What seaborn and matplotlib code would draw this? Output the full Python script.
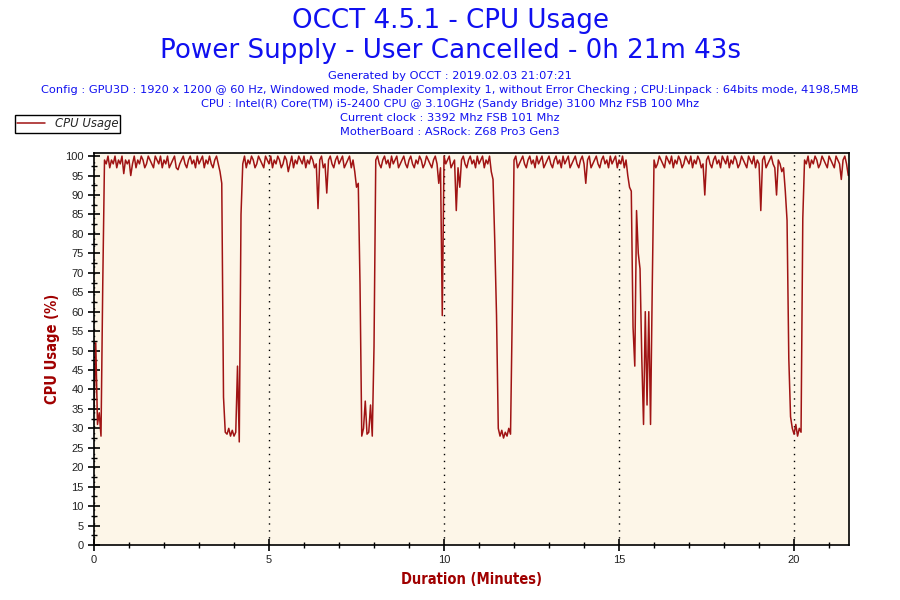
import numpy as np
import pandas as pd
import matplotlib
matplotlib.use('Agg')
import matplotlib.pyplot as plt
from matplotlib.ticker import MultipleLocator
import seaborn as sns

# --- data: CPU usage (%), one sample every 3 seconds ---
sample_seconds = 3
cpu_usage = [
    # minute 0
    35, 52, 31, 34, 28, 67, 99, 98, 100, 97, 99, 98, 100, 97, 99, 98, 100, 95.5, 99, 98,
    # minute 1
    99, 95, 98, 100, 97, 99, 98, 100, 99, 97, 98, 100, 99, 98, 97, 100, 99, 98, 100, 97,
    # minute 2
    99, 98, 100, 97, 98, 99, 100, 97, 96.5, 98, 99, 100, 98, 97, 99, 100, 98, 99, 97, 100,
    # minute 3
    98, 99, 100, 97, 99, 98, 100, 98, 97, 99, 100, 98, 96, 93, 38, 29, 28.5, 30, 28, 29.5,
    # minute 4
    28, 29, 46, 26.5, 85, 98, 100, 97, 99, 98, 100, 99, 97, 98, 100, 99, 98, 97, 100, 99,
    # minute 5
    98, 100, 97, 99, 98, 100, 99, 97, 98, 100, 99, 96, 98, 100, 97, 99, 98, 100, 99, 98,
    # minute 6
    100, 97, 99, 98, 100, 99, 97, 98, 86.5, 99, 100, 97, 98, 90.5, 99, 100, 98, 97, 99, 100,
    # minute 7
    98, 99, 100, 97, 98, 99, 100, 97, 99, 96, 92, 93, 67, 28, 30, 37, 28.5, 29, 36, 28,
    # minute 8
    51, 99, 100, 98, 97, 99, 100, 98, 99, 97, 100, 98, 99, 100, 97, 98, 99, 100, 98, 97,
    # minute 9
    99, 100, 98, 97, 99, 98, 100, 99, 97, 98, 100, 99, 98, 97, 99, 100, 98, 93, 97, 59,
    # minute 10
    100, 98, 99, 100, 97, 98, 99, 86, 97, 92, 99, 100, 98, 97, 99, 100, 98, 99, 97, 100,
    # minute 11
    98, 99, 100, 97, 99, 98, 100, 96, 94, 78, 59, 30, 28, 29.5, 27.5, 29, 28, 30, 28.5, 60,
    # minute 12
    99, 100, 97, 98, 99, 100, 98, 97, 99, 100, 98, 99, 97, 100, 98, 99, 100, 97, 98, 99,
    # minute 13
    100, 98, 97, 99, 100, 98, 99, 97, 100, 98, 99, 100, 97, 98, 99, 100, 98, 97, 99, 100,
    # minute 14
    98, 93, 99, 100, 97, 98, 99, 100, 98, 97, 99, 100, 98, 99, 97, 100, 98, 99, 100, 97,
    # minute 15
    99, 98, 100, 97, 99, 95, 92, 91, 56, 46, 86, 75, 71, 48, 31, 60, 36, 60, 31, 67,
    # minute 16
    99, 97, 98, 100, 99, 98, 97, 100, 99, 98, 100, 97, 99, 98, 100, 99, 97, 98, 100, 99,
    # minute 17
    98, 100, 97, 99, 98, 100, 99, 97, 98, 90, 99, 100, 98, 97, 99, 100, 98, 99, 97, 100,
    # minute 18
    99, 98, 100, 97, 99, 98, 100, 99, 97, 98, 100, 99, 98, 97, 100, 99, 98, 100, 97, 99,
    # minute 19
    98, 86, 99, 100, 97, 98, 99, 100, 98, 97, 90, 99, 98, 96, 97, 91, 83.5, 48, 33, 30,
    # minute 20
    28.5, 31, 28, 30, 29, 84, 99, 98, 100, 97, 99, 98, 100, 99, 97, 98, 100, 99, 98, 97,
    # minute 21
    100, 99, 98, 97, 100, 99, 98, 94, 99, 100, 98, 95,
]

title_lines = ['OCCT 4.5.1 - CPU Usage', 'Power Supply - User Cancelled - 0h 21m 43s']
info_lines = [
    'Generated by OCCT : 2019.02.03 21:07:21',
    'Config : GPU3D : 1920 x 1200 @ 60 Hz, Windowed mode, Shader Complexity 1, without Error Checking ; CPU:Linpack : 64bits mode, 4198,5MB',
    'CPU : Intel(R) Core(TM) i5-2400 CPU @ 3.10GHz (Sandy Bridge) 3100 Mhz FSB 100 Mhz',
    'Current clock : 3392 Mhz FSB 101 Mhz',
    'MotherBoard : ASRock: Z68 Pro3 Gen3',
]

df = pd.DataFrame({'CPU Usage': cpu_usage})
df['Minutes'] = np.arange(len(df)) * sample_seconds / 60.0

sns.set_style('ticks')
plt.rcParams['font.family'] = ['DejaVu Sans']

line_color = '#a01414'
label_color = '#a00000'
blue = '#1010f0'

fig = plt.figure(figsize=(9, 6), dpi=100)
ax = fig.add_axes([94 / 900, 1 - 545 / 600, 755 / 900, 392 / 600])
ax.set_facecolor('#fdf6e8')

sns.lineplot(data=df, x='Minutes', y='CPU Usage', color=line_color, linewidth=1.1,
             ax=ax, label='CPU Usage', legend=False)

ax.set_xlim(0, 21.57)
ax.set_ylim(0, 100.8)
ax.xaxis.set_major_locator(MultipleLocator(5))
ax.xaxis.set_minor_locator(MultipleLocator(1))
ax.yaxis.set_major_locator(MultipleLocator(5))
ax.yaxis.set_minor_locator(MultipleLocator(2.5))
ax.tick_params(which='major', direction='inout', length=9, width=1.2, colors='black',
               labelsize=8, pad=3)
ax.tick_params(which='minor', direction='inout', length=5, width=1.0, colors='black')
for t in ax.get_xticklabels() + ax.get_yticklabels():
    t.set_color('#222222')
    t.set_family(['Liberation Sans', 'DejaVu Sans'])

for s in ax.spines.values():
    s.set_visible(True)
    s.set_color('black')
    s.set_linewidth(1.2)

# vertical dotted grid at major x ticks
ax.grid(axis='x', which='major', color='black', linestyle=(0, (1, 4)), linewidth=1.0)
ax.grid(axis='y', visible=False)

ax.set_xlabel('Duration (Minutes)', color=label_color, fontsize=10.5, fontweight='bold',
              fontstretch='condensed', labelpad=5)
ax.set_ylabel('CPU Usage (%)', color=label_color, fontsize=10.5, fontweight='bold',
              fontstretch='condensed', labelpad=4)

# titles
fig.text(0.5, 1 - 21 / 600, title_lines[0], ha='center', va='center', color=blue, fontsize=18.8)
fig.text(0.5, 1 - 51 / 600, title_lines[1], ha='center', va='center', color=blue, fontsize=18.8)
for k, line in enumerate(info_lines):
    fig.text(0.5, 1 - (76 + 14 * k) / 600, line, ha='center', va='center', color=blue,
             fontsize=8.2)

# legend box, top left
fig.legend(handles=ax.get_lines()[:1], labels=['CPU Usage'], loc='upper left',
           bbox_to_anchor=(15 / 900, 1 - 115 / 600), frameon=True, fancybox=False,
           edgecolor='black', framealpha=1, borderpad=0.2, handlelength=2.4,
           prop={'style': 'italic', 'size': 8.4}, borderaxespad=0)

fig.savefig('out.png', dpi=100)
